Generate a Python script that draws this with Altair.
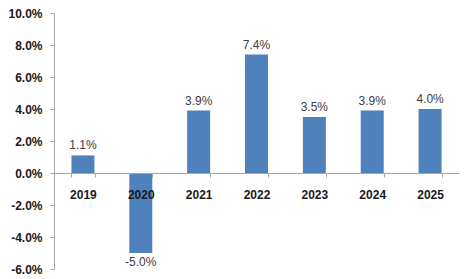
import altair as alt
import pandas as pd

years = ["2019", "2020", "2021", "2022", "2023", "2024", "2025"]
growth = [1.1, -5.0, 3.9, 7.4, 3.5, 3.9, 4.0]
y_ticks = [-6, -4, -2, 0, 2, 4, 6, 8, 10]

df = pd.DataFrame({"year": years, "value": [v / 100 for v in growth]})
df["label"] = [f"{v:.1f}%" for v in growth]

FONT = "Liberation Sans"

x = alt.X(
    "year:N",
    sort=years,
    scale=alt.Scale(paddingInner=0.6, paddingOuter=0.3),
    axis=alt.Axis(
        title=None,
        orient="bottom",
        offset=-96,
        labelAngle=0,
        labelFont=FONT,
        labelFontSize=12,
        labelFontWeight="bold",
        labelColor="#1a1a1a",
        labelPadding=12,
        tickBand="extent",
        tickSize=4,
        tickColor="#a6a6a6",
        domainColor="#a6a6a6",
        grid=False,
        zindex=1,
    ),
)

y = alt.Y(
    "value:Q",
    scale=alt.Scale(domain=[-0.06, 0.10], nice=False, zero=True),
    axis=alt.Axis(
        title=None,
        values=[t / 100 for t in y_ticks],
        labelExpr="replace(format(datum.value, '.1%'), '\u2212', '-')",
        labelOverlap=False,
        labelFont=FONT,
        labelFontSize=12,
        labelFontWeight="bold",
        labelColor="#1a1a1a",
        labelPadding=8,
        tickSize=4,
        tickColor="#a6a6a6",
        domainColor="#a6a6a6",
        grid=False,
    ),
)

base = alt.Chart(df).encode(x=x, y=y)

bars = base.mark_bar(size=23, color="#4F81BD")

pos = base.transform_filter("datum.value >= 0").mark_text(
    baseline="bottom", dy=-3, font=FONT, fontSize=12, color="#404040"
).encode(text="label:N")

neg = base.transform_filter("datum.value < 0").mark_text(
    baseline="top", dy=4, font=FONT, fontSize=12, color="#404040"
).encode(text="label:N")

chart = (
    alt.layer(bars, pos, neg)
    .properties(
        width=405,
        height=256,
        autosize=alt.AutoSizeParams(type="none"),
        padding={"left": 54, "top": 13, "right": 12, "bottom": 10},
        background="white",
    )
    .configure_view(stroke=None)
)

chart.save("out.html", embed_options={"renderer": "svg", "actions": False})
